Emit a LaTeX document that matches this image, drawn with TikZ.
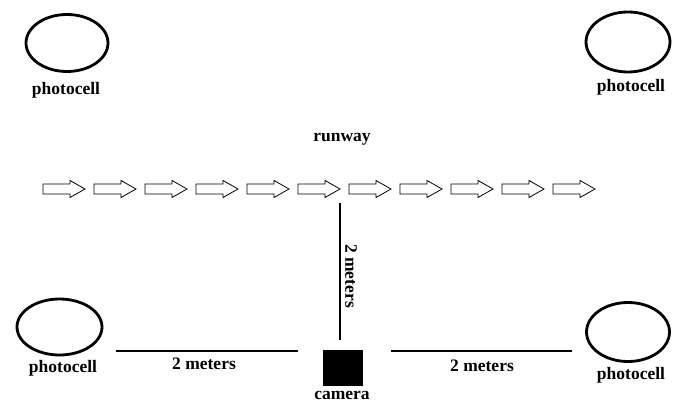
\documentclass[tikz,border=0pt]{standalone}
\usepackage{fontspec}
\setmainfont{Liberation Serif}
\usetikzlibrary{shapes.geometric}
\tikzset{
  cell/.style={ellipse, draw, line width=2.8pt, inner sep=0pt},
  lbl/.style={font=\fontsize{17.5}{19}\selectfont\bfseries, inner sep=0pt},
  rule/.style={line width=1.4pt},
  blockarrow/.style={draw, line width=0.8pt, fill=white},
}
\begin{document}
\begin{tikzpicture}[x=1pt,y=-1pt]
\useasboundingbox[fill=white] (0,0) rectangle (676,403);
% photocells
\node[cell, minimum width=82pt, minimum height=57pt] (pc1) at (67,43) {};
\node[lbl] (t1) at (66,90) {photocell};
\node[cell, minimum width=84pt, minimum height=60pt] (pc2) at (628,42) {};
\node[lbl] (t2) at (631,87) {photocell};
\node[cell, minimum width=85pt, minimum height=56pt] (pc3) at (59.5,327) {};
\node[lbl] (t3) at (63,368) {photocell};
\node[cell, minimum width=83pt, minimum height=59pt] (pc4) at (628,332) {};
\node[lbl] (t4) at (631,375) {photocell};
% runway
\node[lbl] (rw) at (342,139) {runway};
\foreach \i in {0,...,10}{
  \pgfmathsetmacro{\xo}{43+51*\i}
  \draw[blockarrow] (\xo,184) -- (\xo+27,184) -- (\xo+27,180.5) -- (\xo+42,189) -- (\xo+27,197.5) -- (\xo+27,194) -- (\xo,194) -- cycle;
}
% camera
\node[fill=black, minimum width=40pt, minimum height=36pt, inner sep=0pt] (cam) at (343,368) {};
\node[lbl] (ct) at (342,395) {camera};
% distances
\coordinate (vtop) at (340,203);
\coordinate (vbot) at (340,340);
\draw[rule] (vtop) -- (vbot);
\node[lbl, rotate=-90] (d1) at (351,276) {2 meters};
\coordinate (l1) at (116,351);
\coordinate (l2) at (298,351);
\draw[rule] (l1) -- (l2);
\node[lbl] (d2) at (204,364) {2 meters};
\coordinate (r1) at (391,351);
\coordinate (r2) at (572,351);
\draw[rule] (r1) -- (r2);
\node[lbl] (d3) at (482,366) {2 meters};
\end{tikzpicture}
\end{document}
